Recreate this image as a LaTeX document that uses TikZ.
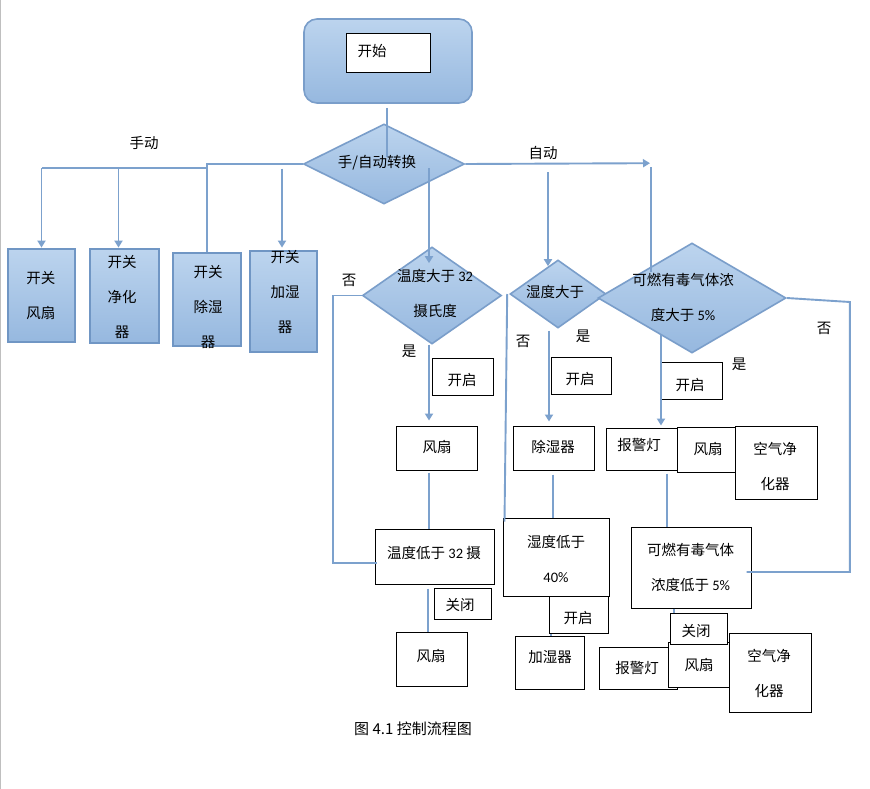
\documentclass[tikz,border=0pt]{standalone}
\usepackage{fontspec}
\setmainfont{Noto Sans CJK SC}
\newfontfamily\latf{Carlito}
\usetikzlibrary{shapes.geometric,arrows.meta,calc}
\definecolor{ftop}{RGB}{188,212,238}
\definecolor{fbot}{RGB}{150,184,223}
\definecolor{bord}{RGB}{122,158,202}
\definecolor{mbord}{RGB}{112,150,196}
\definecolor{lnc}{RGB}{124,161,205}
\newcommand\bx[6][]{\node[#1, minimum width={#4-#2}, minimum height={#5-#3}] (#6) at ({(#2+#4)/2},{(#3+#5)/2}) {};}
\tikzset{
  grad/.style={top color=ftop, bottom color=fbot, draw=bord, line width=1.6pt},
  dia/.style={diamond, grad, inner sep=0pt},
  mbox/.style={rectangle, grad, draw=mbord, line width=2.8pt, inner sep=0pt},
  wbox/.style={rectangle, draw=black, fill=white, line width=1pt, inner sep=0pt},
  conn/.style={draw=lnc, line width=1.9pt},
  arr/.style={conn, -{Triangle[width=8pt,length=7pt]}},
  txt/.style={inner sep=0pt, align=center, font=\fontsize{14.5pt}{35pt}\selectfont},
  captxt/.style={inner sep=0pt, font=\fontsize{15pt}{17pt}\selectfont},
}
\begin{document}
\begin{tikzpicture}[x=1pt,y=-1pt]
\fill[white] (0,0) rectangle (870,789);
\useasboundingbox (0,0) rectangle (870,789);
\draw[black!25, line width=1.2pt] (0.6,0) -- (0.6,789);

% start
\node[rectangle, grad, rounded corners=13pt, minimum width=168, minimum height=84, inner sep=0pt] (start) at (388,61) {};
\bx[wbox]{346}{34}{430}{73}{startin}
% diamonds
\node[dia, minimum width=161, minimum height=80] (sw) at (384,164) {};
\node[dia, minimum width=139, minimum height=97] (tempd) at (432,295.5) {};
\node[dia, minimum width=96, minimum height=68] (humd) at (558,294) {};
\node[dia, minimum width=188, minimum height=110] (gasd) at (692,298) {};
% manual boxes
\bx[mbox]{8}{249}{75}{342}{bA}
\bx[mbox]{90}{249}{159}{343}{bB}
\bx[mbox]{173}{253}{241}{346}{bC}
\bx[mbox]{250}{251}{317}{352}{bD}
% temperature branch boxes
\bx[wbox]{432}{358}{493}{395}{ton}
\bx[wbox]{396}{426}{477}{470}{tfan}
\bx[wbox]{375}{529}{494}{584}{tlow}
\bx[wbox]{434}{588}{491}{619}{toff}
\bx[wbox]{396}{632}{467}{686}{tfan2}
% humidity branch boxes
\bx[wbox]{551}{357}{611}{394}{hon}
\bx[wbox]{513}{426}{594}{470}{hdeh}
\bx[wbox]{503}{518}{609}{596}{hlow}
\bx[wbox]{515}{636}{584}{689}{hhum}
% gas branch boxes
\bx[wbox]{661}{362}{722}{399}{gon}
\bx[wbox]{606}{428}{677}{470}{galarm}
\bx[wbox]{677}{427}{736}{472}{gfan}
\bx[wbox]{735}{426}{817}{499}{gair}
\bx[wbox]{631}{527}{751}{608}{glow}
\bx[wbox]{599}{647}{677}{689}{galarm2}
\bx[wbox]{668}{642}{729}{687}{gfan2}
\bx[wbox]{670}{613}{727}{644}{goff}
\bx[wbox]{729}{633}{811}{712}{gair2}

% connectors
\coordinate (bus) at (0,168);
\draw[conn] ($(start.south)+(-1,4)$) -- ($(sw.north)+(3,34)$);
\draw[conn] (sw.west) -| (bC.north);
\draw[conn] (bC.north |- bus) -- (bA.north |- bus);
\draw[arr] (bA.north |- bus) -- (bA.north);
\draw[arr] ($(bB.north |- bus)+(-6,0)$) -- ($(bB.north)+(-6,0)$);
\draw[arr] ($(bD.north)+(-1.5,-81)$) -- ($(bD.north)+(-1.5,-2)$);
\draw[arr] (sw.east) -- ($(gasd.north)+(-42,-79)$);
\draw[conn] ($(gasd.north)+(-41,-75)$) -- ($(gasd.north)+(-41,30)$);
\draw[arr] ($(sw.center)+(45,4)$) -- ($(tempd.north)+(-3,17)$);
\draw[arr] ($(sw.center)+(164,8)$) -- ($(humd.north)+(-10,7)$);
% temperature
\draw[conn] (tempd.west) -- ++(-29,0) |- ($(tlow.west)+(2,6.5)$);
\draw[arr] ($(tempd.south)+(-3,0)$) -- ($(tfan.north)+(-7.5,-5)$);
\draw[conn] ($(tfan.south)+(-7.5,2)$) -- ($(tlow.north)+(-5.5,0)$);
\draw[conn] ($(tlow.south)+(-6.5,4)$) -- ($(tfan2.north)+(-3.5,0)$);
% humidity
\draw[conn] ($(humd.west)+(-2,0)$) -- ($(hlow.north west)+(2,4)$);
\draw[arr] ($(humd.south)+(-9,2)$) -- ($(hdeh.north)+(-4.5,-4)$);
\draw[conn] ($(hdeh.south)+(-0.5,4)$) -- ($(hlow.north)+(-3,0)$);
\draw[conn] ($(hlow.south)+(-5,0)$) -- ($(hhum.north)+(1.5,0)$);
\bx[wbox]{549}{596}{608}{633}{hon2}
% gas
\draw[conn] (gasd.east) -- ($(gasd.east)+(63,4)$) |- ($(glow.east)+(-5,4.5)$);
\draw[arr] ($(gasd.south)+(-31,-19)$) -- ($(galarm.north)+(19.5,-2)$);
\draw[conn] ($(galarm.south)+(25.5,3)$) -- ($(glow.north)+(-24,0)$);
\draw[conn] ($(glow.south)+(-17,0)$) -- ($(goff.north)+(-24.5,0)$);

% texts
\node[txt] (t-start) at (372,51) {开始};
\node[txt] (t-sw) at (377,163) {手/自动转换};
\node[txt] (t-man) at (144,143) {手动};
\node[txt] (t-auto) at (543,153) {自动};
\node[txt] (t-bA) at (41,296) {开关\\风扇};
\node[txt] (t-bB) at (122,297) {开关\\净化\\器};
\node[txt] (t-bC) at (208,307) {开关\\除湿\\器};
\node[txt] (t-bD) at (285,292) {开关\\加湿\\器};
\node[txt] (t-temp) at (435,293.5) {温度大于 {\latf 32}\\摄氏度};
\node[txt] (t-hum) at (555,292) {湿度大于};
\node[txt] (t-gas) at (683,297) {可燃有毒气体浓\\度大于 {\latf 5\%}};
\node[txt] (n1) at (349,280) {否};
\node[txt] (y1) at (409,351) {是};
\node[txt] (n2) at (523,341) {否};
\node[txt] (y2) at (583,336) {是};
\node[txt] (n3) at (824,328) {否};
\node[txt] (y3) at (739,364) {是};
\node[txt] (t-ton) at (462,380) {开启};
\node[txt] (t-tfan) at (437,447) {风扇};
\node[txt] (t-tlow) at (434,553) {温度低于 {\latf 32} 摄};
\node[txt] (t-toff) at (460,605) {关闭};
\node[txt] (t-tfan2) at (431,656) {风扇};
\node[txt] (t-hon) at (580,379) {开启};
\node[txt] (t-hdeh) at (553,447) {除湿器};
\node[txt] (t-hlow) at (556,558.5) {湿度低于\\{\latf 40\%}};
\node[txt] (t-hon2) at (578,618) {开启};
\node[txt] (t-hhum) at (550,657) {加湿器};
\node[txt] (t-gon) at (690,385) {开启};
\node[txt] (t-galarm) at (639,445) {报警灯};
\node[txt] (t-gfan) at (708,449) {风扇};
\node[txt] (t-gair) at (775,466) {空气净\\化器};
\node[txt] (t-glow) at (690.5,567.5) {可燃有毒气体\\浓度低于 {\latf 5\%}};
\node[txt] (t-goff) at (696,631) {关闭};
\node[txt] (t-galarm2) at (637,668) {报警灯};
\node[txt] (t-gfan2) at (699,665) {风扇};
\node[txt] (t-gair2) at (769,673) {空气净\\化器};
\node[captxt] (caption) at (413,729) {图 4.1 控制流程图};
\end{tikzpicture}
\end{document}
